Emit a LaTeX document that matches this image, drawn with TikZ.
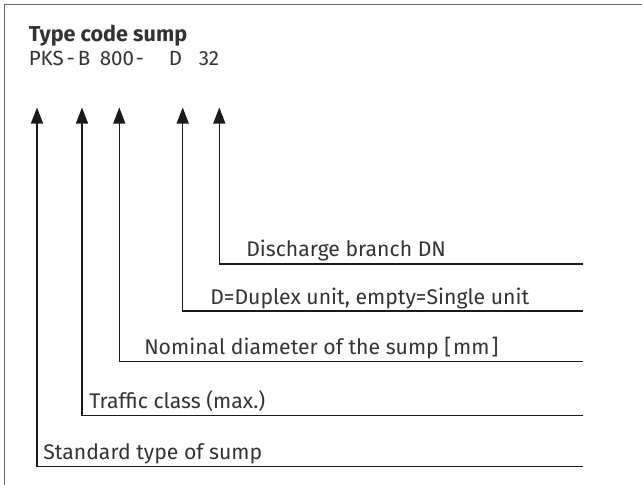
\documentclass[tikz,border=0pt]{standalone}
\usepackage{fontspec}
\setmainfont{Fira Sans}
\usetikzlibrary{arrows.meta}
\definecolor{txt}{HTML}{333333}
\definecolor{ln}{HTML}{1A1A1A}
\definecolor{frm}{HTML}{666666}
\begin{document}
\begin{tikzpicture}[x=0.75pt,y=-0.75pt,
  lbl/.style={anchor=base west,inner sep=0pt,text=txt,font=\fontsize{15.9pt}{19pt}\selectfont},
  code/.style={lbl,font=\fontsize{15.4pt}{19pt}\selectfont},
  ttl/.style={lbl,font=\fontsize{16.2pt}{19pt}\selectfont\bfseries},
  conn/.style={draw=ln,line width=1pt,-{Triangle[width=9pt,length=12pt]}},
  frame/.style={draw=frm,line width=1.2pt}]
\useasboundingbox (0,0) rectangle (642,485);
% frame
\coordinate (fa) at (642,4.5);
\coordinate (fb) at (4.5,4.5);
\coordinate (fc) at (4.5,485);
\draw[frame] (fa) -- (fb) -- (fc);
% title and code
\node[ttl] (title) at (28.5,41.5) {Type code sump};
\node[code] (pks) at (28.5,65) {PKS};
\node[code] (h1) at (66.4,65) {-};
\node[code] (b) at (77.5,65) {B};
\node[code] (n800) at (99.5,65) {800};
\node[code] (h2) at (135.4,65) {-};
\node[code] (d) at (168.5,65) {D};
\node[code] (n32) at (198.5,65) {32};
% arrow tips
\coordinate (t1) at (37,107.5);
\coordinate (t2) at (82,107.5);
\coordinate (t3) at (119.3,107.5);
\coordinate (t4) at (182.7,107.5);
\coordinate (t5) at (219.3,107.5);
% corners
\coordinate (c1) at (37,466.7);
\coordinate (c2) at (82,415.7);
\coordinate (c3) at (119.3,361.7);
\coordinate (c4) at (182.7,311);
\coordinate (c5) at (219.3,264);
% line ends
\coordinate (e1) at (583,466.7);
\coordinate (e2) at (583,415.7);
\coordinate (e3) at (583,361.7);
\coordinate (e4) at (583,311);
\coordinate (e5) at (583,264);
\draw[conn] (e1) -- (c1) -- (t1);
\draw[conn] (e2) -- (c2) -- (t2);
\draw[conn] (e3) -- (c3) -- (t3);
\draw[conn] (e4) -- (c4) -- (t4);
\draw[conn] (e5) -- (c5) -- (t5);
% labels
\node[lbl] (l1) at (43,459) {Standard type of sump};
\node[lbl] (l2) at (89,408) {Traffic class (max.)};
\node[lbl] (l3) at (144,354) {Nominal diameter of the sump [\kern1.5pt mm\kern1.5pt]};
\node[lbl] (l4) at (210,304) {D=Duplex unit, empty=Single unit};
\node[lbl] (l5) at (246,256.5) {Discharge branch DN};
\end{tikzpicture}
\end{document}
